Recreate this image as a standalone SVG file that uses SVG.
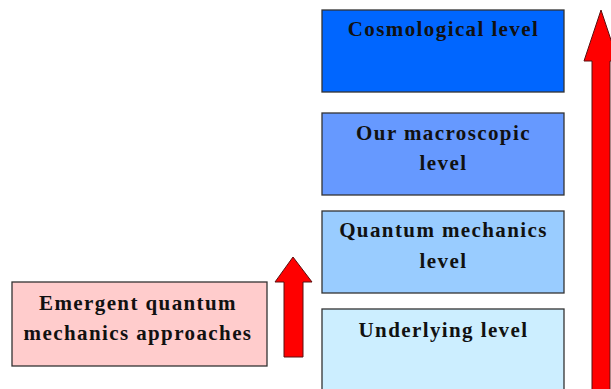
<svg xmlns="http://www.w3.org/2000/svg" width="611" height="389" viewBox="0 0 611 389">
<style>
.box{stroke:#333;stroke-width:1.3}
.t{font-family:"Liberation Serif","Times New Roman",serif;font-weight:bold;font-size:21px;fill:#111;text-anchor:middle;letter-spacing:1.4px}
.arrow{fill:#ff0000;stroke:#5a1010;stroke-width:1}
</style>
<rect width="611" height="389" fill="#fff"/>
<g id="cosmological">
<rect class="box" x="322" y="10" width="242" height="82" fill="#0066ff"/>
<text class="t" x="443.5" y="36">Cosmological level</text>
</g>
<g id="macroscopic">
<rect class="box" x="322" y="113" width="242" height="82" fill="#6699ff"/>
<text class="t" x="443.5" y="140">Our macroscopic</text>
<text class="t" x="443.5" y="170">level</text>
</g>
<g id="quantum">
<rect class="box" x="322" y="211" width="242" height="82" fill="#99ccff"/>
<text class="t" x="443.5" y="237">Quantum mechanics</text>
<text class="t" x="443.5" y="268">level</text>
</g>
<g id="underlying">
<rect class="box" x="322" y="309" width="242" height="90" fill="#cceeff"/>
<text class="t" x="443.5" y="337">Underlying level</text>
</g>
<g id="emergent">
<rect class="box" x="12" y="282" width="255" height="84" fill="#ffcccc"/>
<text class="t" x="138" y="310">Emergent quantum</text>
<text class="t" x="138" y="340">mechanics approaches</text>
</g>
<g id="connectors">
<polygon class="arrow" points="293,257 312,282 303,282 303,357 284,357 284,282 275,282"/>
<polygon class="arrow" points="601,10 618,61 610,61 610,400 592,400 592,61 584,61"/>
</g>
</svg>
